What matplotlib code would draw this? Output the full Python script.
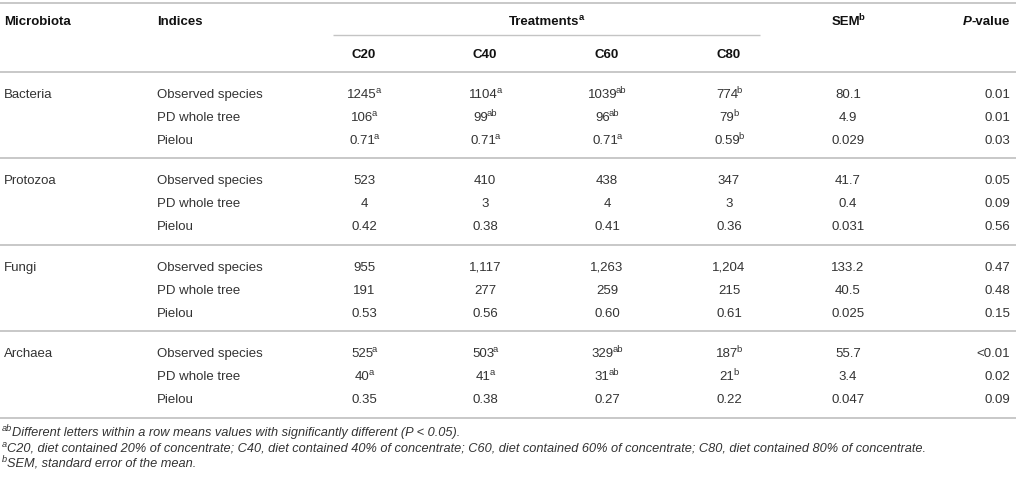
import matplotlib
matplotlib.use("Agg")
import matplotlib.pyplot as plt

# ===========================
# TABLE DATA
# ===========================

MICROBIOTA = ["Bacteria", "Protozoa", "Fungi", "Archaea"]
INDICES = ["Observed species", "PD whole tree", "Pielou"]
TREATMENTS = ["C20", "C40", "C60", "C80"]

BACTERIA_VALUES = [["1245", "1104", "1039", "774"],
                   ["106", "99", "96", "79"],
                   ["0.71", "0.71", "0.71", "0.59"]]
BACTERIA_LETTERS = [["a", "a", "ab", "b"],
                    ["a", "ab", "ab", "b"],
                    ["a", "a", "a", "b"]]
BACTERIA_SEM = ["80.1", "4.9", "0.029"]
BACTERIA_P = ["0.01", "0.01", "0.03"]

PROTOZOA_VALUES = [["523", "410", "438", "347"],
                   ["4", "3", "4", "3"],
                   ["0.42", "0.38", "0.41", "0.36"]]
PROTOZOA_SEM = ["41.7", "0.4", "0.031"]
PROTOZOA_P = ["0.05", "0.09", "0.56"]

FUNGI_VALUES = [["955", "1,117", "1,263", "1,204"],
                ["191", "277", "259", "215"],
                ["0.53", "0.56", "0.60", "0.61"]]
FUNGI_SEM = ["133.2", "40.5", "0.025"]
FUNGI_P = ["0.47", "0.48", "0.15"]

ARCHAEA_VALUES = [["525", "503", "329", "187"],
                  ["40", "41", "31", "21"],
                  ["0.35", "0.38", "0.27", "0.22"]]
ARCHAEA_LETTERS = [["a", "a", "ab", "b"],
                   ["a", "a", "ab", "b"],
                   ["", "", "", ""]]
ARCHAEA_SEM = ["55.7", "3.4", "0.047"]
ARCHAEA_P = ["<0.01", "0.02", "0.09"]

NO_LETTERS = [["", "", "", ""]] * 3

FOOTNOTE_MARKS = ["ab", "a", "b"]
FOOTNOTE_TEXTS = [
    "Different letters within a row means values with significantly different (P < 0.05).",
    "C20, diet contained 20% of concentrate; C40, diet contained 40% of concentrate; "
    "C60, diet contained 60% of concentrate; C80, diet contained 80% of concentrate.",
    "SEM, standard error of the mean.",
]

# ===========================
# LAYOUT (pixel coordinates)
# ===========================

W, H = 1016, 479
FONT = "Liberation Sans"
FS = 9.5
FOOT_FS = 9.15
TEXT_COL = "#333333"
HEAD_COL = "#111111"
LINE_COL = "#c4c4c4"

X_MICRO = 4
X_INDEX = 157
X_TREAT = [364, 485, 607, 729]
X_SEM = 848
X_P = 1010

Y_HEAD1 = 20
Y_HEAD2 = 53
Y_FIRST = 93
ROW_STEP = 23
GROUP_STEP = 86.5
BASE = 4.7  # centre -> baseline
SUP_GAP = -1.2

plt.rcParams["font.family"] = FONT

fig = plt.figure(figsize=(W / 100, H / 100), dpi=100)
ax = fig.add_axes([0, 0, 1, 1])
ax.set_xlim(0, W)
ax.set_ylim(H, 0)
ax.axis("off")
renderer = fig.canvas.get_renderer()


def text_width(s, fs, weight="normal", style="normal"):
    t = ax.text(0, 0, s, fontsize=fs, fontweight=weight, fontstyle=style)
    w = t.get_window_extent(renderer).width
    t.remove()
    return w


def hline(y, x0=0, x1=W, lw=1.3):
    ax.plot([x0, x1], [y, y], color=LINE_COL, lw=lw, solid_capstyle="butt")


def txt(x, y, main, letters="", ha="left", bold=False, color=TEXT_COL,
        fs=FS, style="normal", base=BASE):
    """Draw main text with an optional superscript, aligned as a whole."""
    weight = "bold" if bold else "normal"
    sfs = fs * 0.72
    w1 = text_width(main, fs, weight, style) if main else 0
    w2 = text_width(letters, sfs, weight, style) + SUP_GAP if letters else 0
    total = w1 + w2
    if ha == "center":
        left = x - total / 2
    elif ha == "right":
        left = x - total
    else:
        left = x
    em = fs * 100 / 72
    if main:
        ax.text(left, y + base, main, ha="left", va="baseline", fontsize=fs,
                fontweight=weight, fontstyle=style, color=color)
    if letters:
        ax.text(left + w1 + SUP_GAP, y + base - 0.36 * em, letters, ha="left",
                va="baseline", fontsize=sfs, fontweight=weight, fontstyle=style,
                color=color)


# header
hline(3)
txt(X_MICRO, Y_HEAD1, "Microbiota", bold=True, color=HEAD_COL)
txt(X_INDEX, Y_HEAD1, "Indices", bold=True, color=HEAD_COL)
txt((X_TREAT[0] + X_TREAT[-1]) / 2, Y_HEAD1, "Treatments", "a",
    ha="center", bold=True, color=HEAD_COL)
txt(X_SEM, Y_HEAD1, "SEM", "b", ha="center", bold=True, color=HEAD_COL)
txt(X_P, Y_HEAD1, "-value", ha="right", bold=True, color=HEAD_COL)
w_val = text_width("-value", FS, "bold")
ax.text(X_P - w_val, Y_HEAD1 + BASE, "P", ha="right", va="baseline", fontsize=FS,
        fontweight="bold", fontstyle="italic", color=HEAD_COL)
hline(35, 333, 760, lw=1.0)
for x, name in zip(X_TREAT, TREATMENTS):
    txt(x, Y_HEAD2, name, ha="center", bold=True, color=HEAD_COL)
hline(72)

groups = [
    (BACTERIA_VALUES, BACTERIA_LETTERS, BACTERIA_SEM, BACTERIA_P),
    (PROTOZOA_VALUES, NO_LETTERS, PROTOZOA_SEM, PROTOZOA_P),
    (FUNGI_VALUES, NO_LETTERS, FUNGI_SEM, FUNGI_P),
    (ARCHAEA_VALUES, ARCHAEA_LETTERS, ARCHAEA_SEM, ARCHAEA_P),
]

for g, (name, (vals, letters, sem, pv)) in enumerate(zip(MICROBIOTA, groups)):
    y0 = Y_FIRST + g * GROUP_STEP
    txt(X_MICRO, y0, name)
    for i, index in enumerate(INDICES):
        y = y0 + i * ROW_STEP
        txt(X_INDEX, y, index)
        for x, v, l in zip(X_TREAT, vals[i], letters[i]):
            txt(x, y, v, l, ha="center")
        txt(X_SEM, y, sem[i], ha="center")
        txt(X_P, y, pv[i], ha="right")
    hline(y0 + 2 * ROW_STEP + 19)

# footnotes: superscript mark, then italic note
for k, (mark, note) in enumerate(zip(FOOTNOTE_MARKS, FOOTNOTE_TEXTS)):
    y = 432 + k * 15.5
    sfs = FOOT_FS * 0.72
    wm = text_width(mark, sfs, style="italic")
    em = FOOT_FS * 100 / 72
    ax.text(2, y + 4 - 0.36 * em, mark, ha="left", va="baseline", fontsize=sfs,
            fontstyle="italic", color=TEXT_COL)
    ax.text(2 + wm, y + 4, note, ha="left", va="baseline", fontsize=FOOT_FS,
            fontstyle="italic", color=TEXT_COL)

fig.savefig("out.png", dpi=100)
